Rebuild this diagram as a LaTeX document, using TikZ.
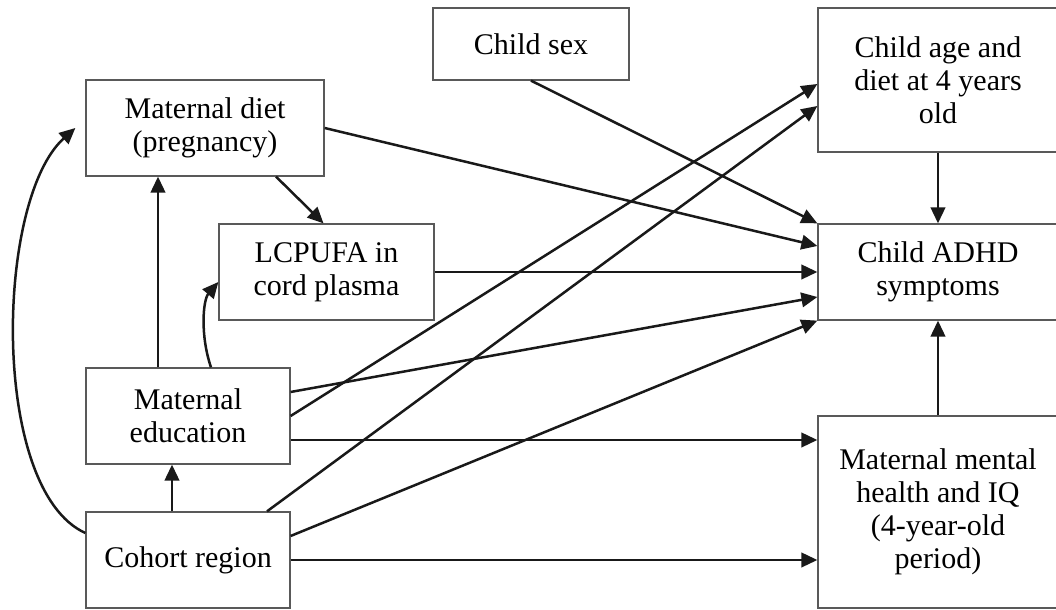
\documentclass[tikz,border=0pt]{standalone}
\usepackage{fontspec}
\setmainfont{Liberation Serif}
\usepackage{tikz}
\usetikzlibrary{arrows.meta,positioning,calc}

\begin{document}
\begin{tikzpicture}[
    x={(0.4pt,0)}, y={(0,-0.4pt)},
    every node/.style={font=\fontsize{12}{13.2}\selectfont},
    box/.style={draw=black!65, line width=0.5pt, align=center, inner sep=0pt},
    arr/.style={-{Triangle[length=6.4pt,width=5.8pt]}, line width=1pt, black!90},
]
\useasboundingbox (0,0) rectangle (1056,610);
\node[box, minimum width=95.2pt, minimum height=38.4pt] (diet) at (205,128) {Maternal diet\\(pregnancy)};
\node[box, minimum width=86pt, minimum height=38.4pt] (lcpufa) at (326.5,272) {LCPUFA in\\cord plasma};
\node[box, minimum width=78.4pt, minimum height=28.8pt] (sex) at (531,44) {Child sex};
\node[box, minimum width=96pt, minimum height=57.6pt] (age) at (938,80) {Child age and\\diet at 4 years\\old};
\node[box, minimum width=96pt, minimum height=38.4pt] (adhd) at (938,272) {Child ADHD\\symptoms};
\node[box, minimum width=81.6pt, minimum height=38.4pt] (edu) at (188,416) {Maternal\\education};
\node[box, minimum width=81.6pt, minimum height=38.4pt] (cohort) at (188,560) {Cohort region};
\node[box, minimum width=96pt, minimum height=76.8pt] (mental) at (938,512) {Maternal mental\\health and IQ\\(4-year-old\\period)};

% paths into child ADHD symptoms
\draw[arr] (diet.east) -- ($(adhd.west)+(0,-26)$);
\draw[arr] (sex.south) -- (adhd.north west);
\draw[arr] (age.south) -- (adhd.north);
\draw[arr] (lcpufa.east) -- (adhd.west);
\draw[arr] ($(edu.east)+(0,-24)$) -- ($(adhd.west)+(0,25)$);
\draw[arr] ($(cohort.east)+(0,-24)$) -- (adhd.south west);
\draw[arr] (mental.north) -- (adhd.south);

% other paths
\draw[arr] ($(diet.south)+(71,0)$) -- ($(lcpufa.north)+(-3,0)$);
\draw[arr] (edu.east) -- ($(age.west)+(0,4)$);
\draw[arr] ($(cohort.north)+(79,0)$) -- ($(age.west)+(0,26)$);
\draw[arr] ($(edu.east)+(0,24)$) -- ($(mental.west)+(0,-72)$);
\draw[arr] (cohort.east) -- ($(mental.west)+(0,48)$);
\draw[arr] ($(cohort.north)+(-16,0)$) -- ($(edu.south)+(-16,0)$);
\draw[arr] ($(edu.north)+(-30,0)$) -- ($(diet.south)+(-47,0)$);
\draw[arr] ($(edu.north)+(23,0)$) .. controls (200,335) and (203,300) .. ($(lcpufa.west)+(0,10)$);
\draw[arr] ($(cohort.west)+(0,-27)$) .. controls (-10,490) and (-5,200) .. ($(diet.west)+(-10,0)$);
\end{tikzpicture}
\end{document}
